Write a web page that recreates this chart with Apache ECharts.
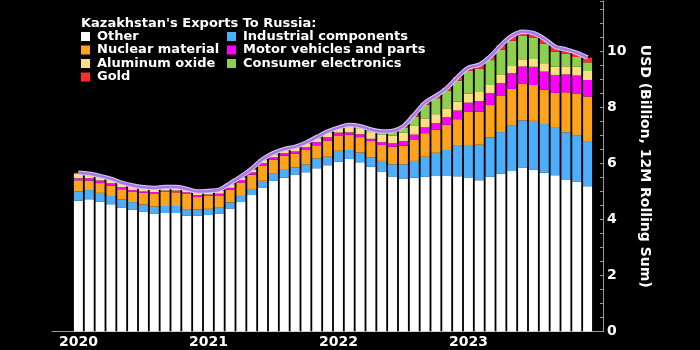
<!DOCTYPE html>
<html>
<head>
<meta charset="utf-8">
<script src="https://cdn.jsdelivr.net/npm/echarts@6/dist/echarts.min.js"></script>
<style>
  html, body { margin: 0; padding: 0; background: #000; }
  #chart { width: 700px; height: 350px; }
</style>
</head>
<body>
<div id="chart"></div>
<script>
// Months Jan 2020 .. Dec 2023 (12-month rolling sums, USD billion)
const months = [];
for (let y = 2020; y <= 2023; y++) {
  for (let m = 1; m <= 12; m++) months.push(y + '-' + String(m).padStart(2, '0'));
}

const other = [4.67, 4.72, 4.63, 4.54, 4.43, 4.34, 4.27, 4.21, 4.23, 4.23, 4.13, 4.13,
  4.16, 4.21, 4.39, 4.62, 4.87, 5.14, 5.38, 5.49, 5.59, 5.69, 5.83, 5.94,
  6.06, 6.16, 6.04, 5.88, 5.71, 5.53, 5.46, 5.49, 5.52, 5.55, 5.55, 5.54,
  5.48, 5.40, 5.52, 5.63, 5.73, 5.84, 5.77, 5.67, 5.58, 5.41, 5.34, 5.19];
const industrial = [0.33, 0.33, 0.32, 0.30, 0.29, 0.28, 0.26, 0.25, 0.25, 0.25, 0.24, 0.23,
  0.22, 0.21, 0.22, 0.22, 0.22, 0.24, 0.25, 0.28, 0.27, 0.27, 0.35, 0.30,
  0.39, 0.32, 0.35, 0.34, 0.38, 0.44, 0.51, 0.60, 0.72, 0.83, 0.93, 1.09,
  1.18, 1.27, 1.41, 1.49, 1.64, 1.70, 1.75, 1.74, 1.72, 1.70, 1.67, 1.61];
const nuclear = [0.40, 0.34, 0.35, 0.37, 0.36, 0.38, 0.42, 0.47, 0.50, 0.49, 0.54, 0.44,
  0.46, 0.44, 0.45, 0.48, 0.51, 0.55, 0.51, 0.51, 0.49, 0.52, 0.47, 0.58,
  0.53, 0.54, 0.55, 0.58, 0.57, 0.63, 0.67, 0.77, 0.84, 0.83, 0.90, 0.95,
  1.18, 1.18, 1.16, 1.29, 1.29, 1.30, 1.28, 1.22, 1.22, 1.43, 1.49, 1.59];
const motor = [0.07, 0.08, 0.09, 0.08, 0.07, 0.05, 0.05, 0.05, 0.05, 0.06, 0.06, 0.07,
  0.05, 0.06, 0.07, 0.09, 0.08, 0.08, 0.08, 0.09, 0.08, 0.10, 0.11, 0.12,
  0.12, 0.09, 0.10, 0.08, 0.10, 0.12, 0.16, 0.17, 0.21, 0.23, 0.27, 0.31,
  0.33, 0.38, 0.42, 0.46, 0.56, 0.62, 0.65, 0.65, 0.64, 0.64, 0.64, 0.59];
const aluminum = [0.17, 0.13, 0.13, 0.13, 0.13, 0.13, 0.12, 0.11, 0.10, 0.10, 0.09, 0.10,
  0.10, 0.11, 0.13, 0.09, 0.10, 0.11, 0.11, 0.10, 0.12, 0.12, 0.14, 0.16,
  0.13, 0.19, 0.22, 0.24, 0.26, 0.27, 0.31, 0.31, 0.32, 0.32, 0.32, 0.32,
  0.32, 0.32, 0.29, 0.29, 0.26, 0.26, 0.28, 0.30, 0.30, 0.29, 0.31, 0.32];
const consumer = [0.01, 0.01, 0.01, 0.01, 0.01, 0.01, 0.01, 0.01, 0.01, 0.01, 0.01, 0.01,
  0.01, 0.01, 0.01, 0.01, 0.01, 0.01, 0.02, 0.02, 0.02, 0.02, 0.02, 0.02,
  0.02, 0.03, 0.04, 0.06, 0.08, 0.13, 0.17, 0.33, 0.49, 0.57, 0.63, 0.75,
  0.81, 0.83, 0.89, 0.90, 0.90, 0.83, 0.75, 0.69, 0.53, 0.44, 0.35, 0.31];
const gold = [0.02, 0.02, 0.02, 0.02, 0.02, 0.02, 0.02, 0.02, 0.02, 0.02, 0.02, 0.02,
  0.02, 0.02, 0.02, 0.02, 0.02, 0.02, 0.02, 0.02, 0.02, 0.02, 0.02, 0.02,
  0.03, 0.04, 0.03, 0.03, 0.04, 0.04, 0.05, 0.07, 0.07, 0.08, 0.09, 0.12,
  0.12, 0.14, 0.12, 0.16, 0.17, 0.15, 0.17, 0.18, 0.18, 0.16, 0.15, 0.17];

const stackOrder = [
  { name: 'Other', data: other, color: '#ffffff' },
  { name: 'Industrial components', data: industrial, color: '#4daefe' },
  { name: 'Nuclear material', data: nuclear, color: '#ffa31c' },
  { name: 'Motor vehicles and parts', data: motor, color: '#ff00ff' },
  { name: 'Aluminum oxide', data: aluminum, color: '#ffdf7f' },
  { name: 'Consumer electronics', data: consumer, color: '#8fcf4f' },
  { name: 'Gold', data: gold, color: '#ff2d2d' }
];

const totals = months.map((_, i) =>
  +stackOrder.reduce((s, k) => s + k.data[i], 0).toFixed(2));

const font = 'DejaVu Sans';
const axisGrey = '#9a9a9a';

const barSeries = stackOrder.map(s => ({
  name: s.name,
  type: 'bar',
  stack: 'exports',
  barWidth: 9,
  itemStyle: { color: s.color },
  data: s.data
}));

const totalLine = (w, c, z) => ({
  type: 'line',
  smooth: 0.35,
  symbol: 'none',
  silent: true,
  z: z,
  lineStyle: { width: w, color: c },
  data: totals
});

const legendText = { color: '#fff', fontFamily: font, fontWeight: 'bold', fontSize: 13, lineHeight: 12, padding: [0, 0, 0, 2] };

const chart = echarts.init(document.getElementById('chart'), null, { renderer: 'canvas' });
chart.setOption({
  backgroundColor: '#000',
  animation: false,
  title: {
    text: "Kazakhstan's Exports To Russia:",
    left: 81, top: 17, padding: 0,
    textStyle: { color: '#fff', fontFamily: font, fontWeight: 'bold', fontSize: 13 }
  },
  legend: [
    {
      data: ['Other', 'Nuclear material', 'Aluminum oxide', 'Gold'],
      orient: 'vertical', left: 81, top: 30, padding: 0,
      itemWidth: 9, itemHeight: 9, itemGap: 0.5, icon: 'rect',
      textStyle: legendText
    },
    {
      data: ['Industrial components', 'Motor vehicles and parts', 'Consumer electronics'],
      orient: 'vertical', left: 227, top: 30, padding: 0,
      itemWidth: 9, itemHeight: 9, itemGap: 0.5, icon: 'rect',
      textStyle: legendText
    }
  ],
  grid: [
    { left: 73, right: 107, top: 1, bottom: 18.5 },
    // wider frame that carries the baseline under the bars
    { left: 52, right: 97, top: 1, bottom: 18.5 }
  ],
  xAxis: [
    {
      type: 'category',
      gridIndex: 0,
      data: months,
      boundaryGap: true,
      axisLine: { show: false },
      axisTick: { show: false },
      axisLabel: {
        interval: (i) => i % 12 === 0,
        formatter: v => v.slice(0, 4),
        color: '#fff', fontFamily: font, fontWeight: 'bold', fontSize: 14, margin: 4
      }
    },
    {
      type: 'value',
      gridIndex: 1,
      min: 0, max: 1,
      splitLine: { show: false },
      axisTick: { show: false },
      axisLabel: { show: false },
      axisLine: { show: true, lineStyle: { color: axisGrey, width: 1 } }
    }
  ],
  yAxis: [
    {
      type: 'value',
      gridIndex: 0,
      position: 'right',
      offset: 10,
      min: 0, max: 11.8, interval: 2,
      splitLine: { show: false },
      axisLine: { show: true, lineStyle: { color: axisGrey, width: 1 } },
      axisTick: { show: true, inside: true, length: 3, lineStyle: { color: axisGrey } },
      minorTick: { show: true, splitNumber: 4, length: 3, lineStyle: { color: axisGrey } },
      axisLabel: {
        color: '#fff', fontFamily: font, fontWeight: 'bold', fontSize: 14, margin: 4,
        showMaxLabel: false
      },
      name: 'USD (Billion, 12M Rolling Sum)',
      nameLocation: 'middle', nameRotate: -90, nameGap: 33,
      nameTextStyle: { color: '#fff', fontFamily: font, fontWeight: 'bold', fontSize: 14 }
    },
    {
      type: 'value',
      gridIndex: 1,
      show: false
    }
  ],
  series: barSeries.concat([
    totalLine(4.5, '#dcc9f7', 10),
    totalLine(2.5, '#a679e6', 11)
  ])
});
</script>
</body>
</html>
